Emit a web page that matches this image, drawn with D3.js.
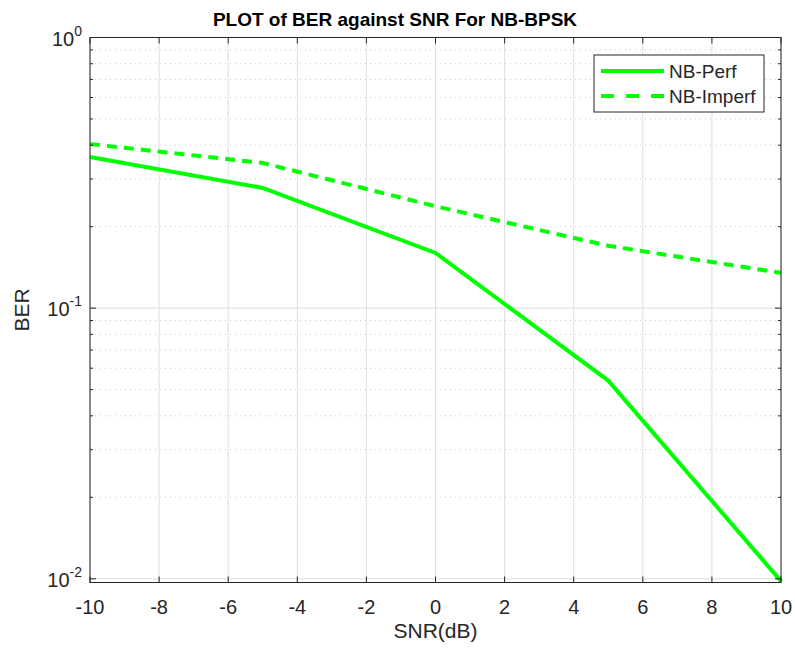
<!DOCTYPE html>
<html>
<head>
<meta charset="utf-8">
<script src="https://cdn.jsdelivr.net/npm/d3@7"></script>
<style>
  body { margin: 0; background: #fff; }
  text { font-family: "Liberation Sans", Arial, sans-serif; }
</style>
</head>
<body>
<svg id="chart" width="795" height="653"></svg>
<script>
// data
let snr = [-10, -5, 0, 5, 10];
let berPerf = [0.362, 0.278, 0.16, 0.054, 0.0098];
let berImperf = [0.404, 0.344, 0.238, 0.17, 0.135];
let xTicks = [-10, -8, -6, -4, -2, 0, 2, 4, 6, 8, 10];
let yTicks = [1, 0.1, 0.01];
let yTickExp = ['0', '-1', '-2'];
let seriesNames = ['NB-Perf', 'NB-Imperf'];

let svg = d3.select('#chart');
let pLeft = 90, pRight = 781, pTop = 37.5, pBottom = 582.5;

let x = d3.scaleLinear().domain([-10, 10]).range([pLeft, pRight]);
let y = d3.scaleLog().domain([0.00969, 1]).range([pBottom, pTop]);

// minor grid (dotted)
let minors = [];
[0.01, 0.1].forEach(d => {
  for (let k = 2; k <= 9; k++) minors.push(d * k);
});

let grid = svg.append('g');
grid.selectAll('.minor')
  .data(minors)
  .enter()
  .append('line')
  .attr('x1', pLeft).attr('x2', pRight)
  .attr('y1', d => y(d)).attr('y2', d => y(d))
  .attr('stroke', '#c8c8c8')
  .attr('stroke-width', 1)
  .attr('stroke-dasharray', '1,4');

grid.selectAll('.vgrid')
  .data(xTicks)
  .enter()
  .append('line')
  .attr('x1', d => x(d)).attr('x2', d => x(d))
  .attr('y1', pTop).attr('y2', pBottom)
  .attr('stroke', '#dedede')
  .attr('stroke-width', 1);

grid.selectAll('.hgrid')
  .data(yTicks)
  .enter()
  .append('line')
  .attr('x1', pLeft).attr('x2', pRight)
  .attr('y1', d => y(d)).attr('y2', d => y(d))
  .attr('stroke', '#dedede')
  .attr('stroke-width', 1);

// lines
let line = d3.line()
  .x((d, i) => x(snr[i]))
  .y(d => y(d));

svg.append('path')
  .datum(berPerf)
  .attr('d', line)
  .attr('fill', 'none')
  .attr('stroke', '#00ff00')
  .attr('stroke-width', 4);

svg.append('path')
  .datum(berImperf)
  .attr('d', line)
  .attr('fill', 'none')
  .attr('stroke', '#00ff00')
  .attr('stroke-width', 4)
  .attr('stroke-dasharray', '10,7');

// box + ticks
let axisColor = '#262626';
svg.append('rect')
  .attr('x', pLeft).attr('y', pTop)
  .attr('width', pRight - pLeft).attr('height', pBottom - pTop)
  .attr('fill', 'none')
  .attr('stroke', axisColor)
  .attr('stroke-width', 1);

let ticks = svg.append('g').attr('stroke', axisColor).attr('stroke-width', 1);
xTicks.forEach(d => {
  ticks.append('line').attr('x1', x(d)).attr('x2', x(d)).attr('y1', pBottom).attr('y2', pBottom - 6);
  ticks.append('line').attr('x1', x(d)).attr('x2', x(d)).attr('y1', pTop).attr('y2', pTop + 6);
});
yTicks.forEach(d => {
  ticks.append('line').attr('x1', pLeft).attr('x2', pLeft + 6).attr('y1', y(d)).attr('y2', y(d));
  ticks.append('line').attr('x1', pRight).attr('x2', pRight - 6).attr('y1', y(d)).attr('y2', y(d));
});
minors.forEach(d => {
  ticks.append('line').attr('x1', pLeft).attr('x2', pLeft + 3).attr('y1', y(d)).attr('y2', y(d));
  ticks.append('line').attr('x1', pRight).attr('x2', pRight - 3).attr('y1', y(d)).attr('y2', y(d));
});

// tick labels
svg.selectAll('.xlab')
  .data(xTicks)
  .enter()
  .append('text')
  .attr('x', d => x(d))
  .attr('y', pBottom + 31)
  .attr('text-anchor', 'middle')
  .attr('font-size', 20)
  .attr('fill', axisColor)
  .text(d => d);

yTicks.forEach((d, i) => {
  let t = svg.append('text')
    .attr('x', pLeft - 8)
    .attr('y', y(d) + 8)
    .attr('text-anchor', 'end')
    .attr('font-size', 20)
    .attr('fill', axisColor);
  t.append('tspan').text('10');
  t.append('tspan').attr('dy', -10).attr('font-size', 14).text(yTickExp[i]);
});

// labels
svg.append('text')
  .attr('x', 395)
  .attr('y', 26)
  .attr('text-anchor', 'middle')
  .attr('font-size', 19)
  .attr('font-weight', 'bold')
  .attr('fill', '#000')
  .text('PLOT of BER against SNR For NB-BPSK');

svg.append('text')
  .attr('x', (pLeft + pRight) / 2)
  .attr('y', 638)
  .attr('text-anchor', 'middle')
  .attr('font-size', 21)
  .attr('fill', axisColor)
  .text('SNR(dB)');

svg.append('text')
  .attr('transform', `translate(29, ${(pTop + pBottom) / 2}) rotate(-90)`)
  .attr('text-anchor', 'middle')
  .attr('font-size', 21)
  .attr('fill', axisColor)
  .text('BER');

// legend
let lg = svg.append('g');
lg.append('rect')
  .attr('x', 594).attr('y', 55)
  .attr('width', 170).attr('height', 57)
  .attr('fill', '#fff')
  .attr('stroke', axisColor)
  .attr('stroke-width', 1);
seriesNames.forEach((name, i) => {
  let ly = 71 + i * 25;
  lg.append('line')
    .attr('x1', 601).attr('x2', 664)
    .attr('y1', ly).attr('y2', ly)
    .attr('stroke', '#00ff00')
    .attr('stroke-width', 4)
    .attr('stroke-dasharray', i === 1 ? '13,12' : null);
  lg.append('text')
    .attr('x', 669)
    .attr('y', ly + 7)
    .attr('font-size', 19)
    .attr('fill', axisColor)
    .text(name);
});
</script>
</body>
</html>
